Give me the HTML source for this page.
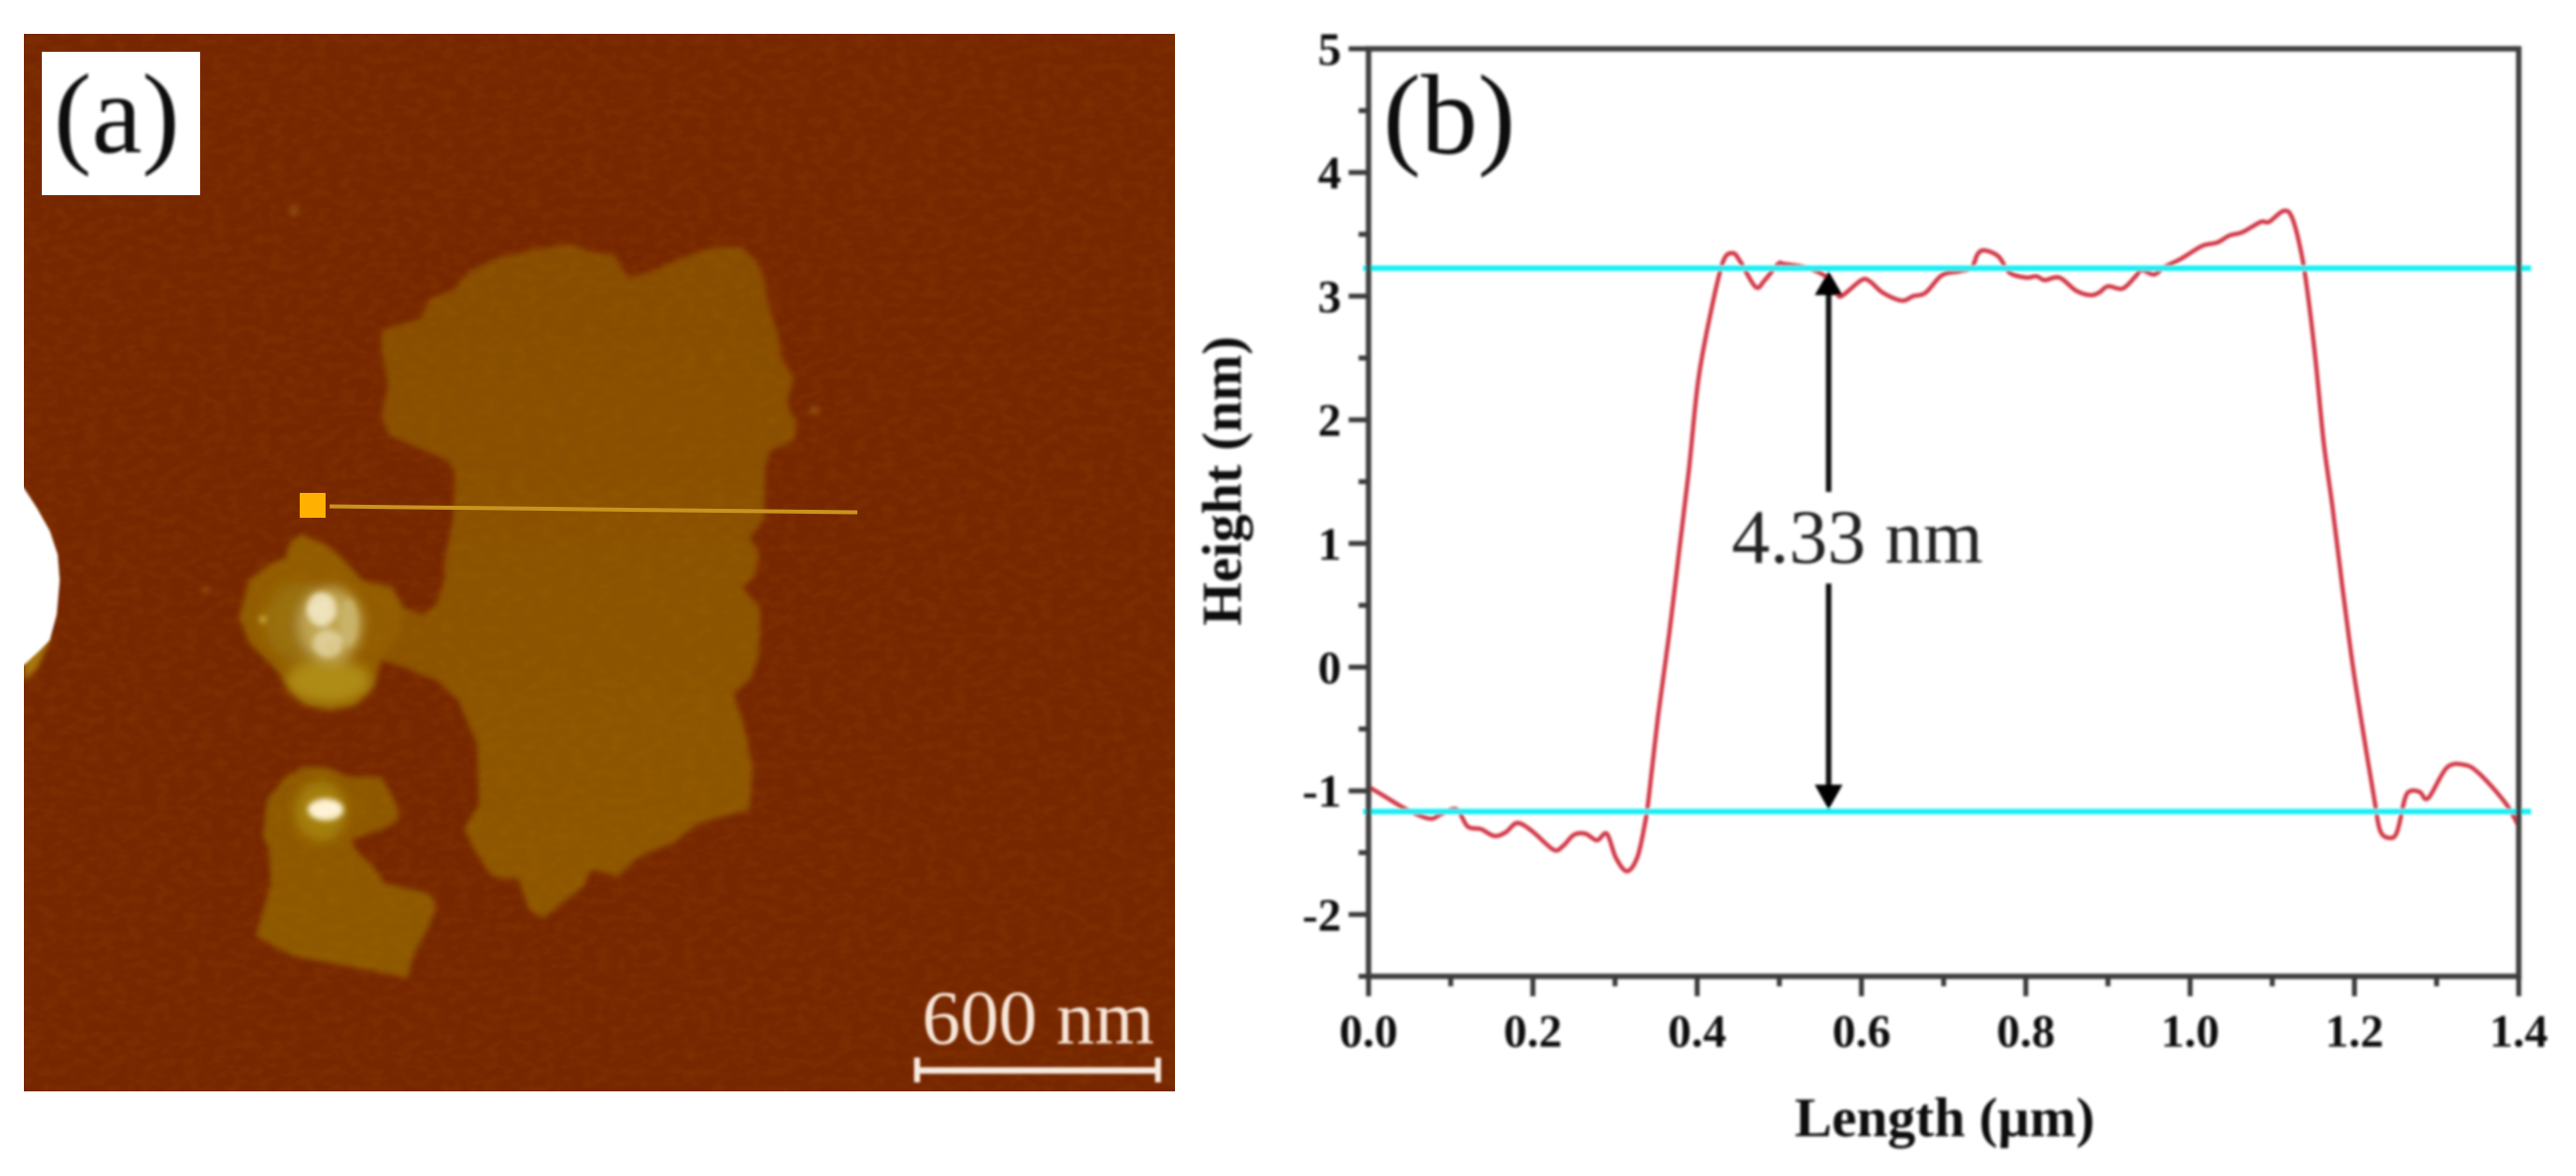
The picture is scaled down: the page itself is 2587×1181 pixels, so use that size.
<!DOCTYPE html>
<html lang="en">
<head>
<meta charset="utf-8">
<title>AFM image and height profile</title>
<style>
html,body{margin:0;padding:0;background:#fff;}
body{width:2587px;height:1181px;overflow:hidden;}
svg{display:block;}
text{font-family:"Liberation Serif",serif;}
</style>
</head>
<body>
<svg id="fig" xmlns="http://www.w3.org/2000/svg" width="2587" height="1181" viewBox="0 0 2587 1181">
  <defs>
    <filter id="soft" x="-5%" y="-5%" width="110%" height="110%"><feGaussianBlur stdDeviation="3"/></filter>
    <filter id="softer" x="-30%" y="-30%" width="160%" height="160%"><feGaussianBlur stdDeviation="6"/></filter>
    <filter id="txt" x="-5%" y="-5%" width="110%" height="110%"><feGaussianBlur stdDeviation="1.2"/></filter>
    <filter id="grain" x="0" y="0" width="100%" height="100%">
      <feTurbulence type="fractalNoise" baseFrequency="0.07 0.11" numOctaves="2" seed="4"/>
      <feColorMatrix type="matrix" values="0 0 0 0 0.62  0 0 0 0 0.28  0 0 0 0 0  1.6 0 0 0 -0.62"/>
    </filter>
    <linearGradient id="islandFill" x1="0" y1="0" x2="0" y2="1">
      <stop offset="0" stop-color="#884d00"/>
      <stop offset="1" stop-color="#8f5700"/>
    </linearGradient>
    <clipPath id="panelClip"><rect x="24" y="34" width="1156" height="1062"/></clipPath>
  </defs>

  <g id="panel-a">
    <rect x="24" y="34" width="1156" height="1062" fill="#772700"/>
    <g clip-path="url(#panelClip)">
      <g filter="url(#soft)">
        <polygon fill="url(#islandFill)" points="383,333 398,327 422,320 432,300 457,290 470,273 503,258 540,250 573,245 593,253 617,255 625,270 632,280 660,270 690,257 717,248 745,248 760,263 768,283 772,307 782,337 785,360 797,380 790,407 800,423 798,442 773,453 768,473 768,520 753,540 763,557 757,580 745,590 763,610 764,620 762,660 753,683 736,697 745,720 756,770 753,813 701,827 675,847 642,860 620,880 594,873 586,890 560,910 546,922 531,913 521,883 494,880 479,857 466,833 475,817 481,810 479,747 460,703 438,683 405,670 383,663 370,640 383,633 405,610 425,617 438,607 446,583 447,560 455,520 457,473 450,463 390,437 383,417 390,387 383,353"/>
        <polygon fill="#925c02" points="303,537 327,547 346,563 364,583 394,590 405,610 400,640 383,663 375,690 357,708 331,713 305,707 290,690 275,670 251,647 240,620 250,583 270,567 287,560 292,543"/>
        <polygon fill="#8e5801" points="305,770 327,770 349,780 383,780 398,807 401,823 383,833 353,843 357,853 375,870 386,887 431,897 438,910 431,930 416,957 409,982 375,975 331,967 294,960 257,940 272,887 270,853 264,840 268,803 287,780"/>
        <polygon fill="#a8740c" points="24,640 50,643 37,672 24,684"/>
      </g>
      <g filter="url(#softer)">
        <ellipse cx="300" cy="625" rx="34" ry="40" fill="#98700a"/>
        <ellipse cx="330" cy="684" rx="42" ry="22" fill="#ad8c14"/>
        <ellipse cx="332" cy="627" rx="32" ry="38" fill="#bfa552"/>
        <ellipse cx="322" cy="815" rx="26" ry="30" fill="#a4800e"/>
      </g>
      <g filter="url(#soft)">
        <ellipse cx="323" cy="612" rx="15" ry="17" fill="#efe3bd"/>
        <ellipse cx="329" cy="646" rx="15" ry="14" fill="#ddcc96"/>
        <ellipse cx="350" cy="625" rx="9" ry="24" fill="#c9b36a"/>
        <ellipse cx="264" cy="622" rx="4" ry="4" fill="#c9a63f"/>
        <ellipse cx="327" cy="813" rx="18" ry="11" fill="#fff4d8"/>
        <ellipse cx="295" cy="211" rx="5" ry="6" fill="#8a4610"/>
        <ellipse cx="207" cy="592" rx="4" ry="4" fill="#8a4610"/>
        <ellipse cx="818" cy="412" rx="5" ry="5" fill="#8a4610"/>
      </g>
      <rect x="24" y="34" width="1156" height="1062" filter="url(#grain)" opacity="0.1"/>
    </g>
    <polygon filter="url(#txt)" fill="#ffffff" points="0,480 24,490 37,510 50,533 58,557 60,583 57,617 50,643 38,655 24,668 0,668"/>
    <rect x="0" y="0" width="24" height="1181" fill="#fff"/>
    <rect x="42" y="52" width="159" height="144" fill="#ffffff"/>
    <text x="54" y="153" font-size="114" fill="#111" filter="url(#txt)">(a)</text>
    <rect x="301" y="495" width="26" height="25" fill="#ffb000"/>
    <line x1="331" y1="508.5" x2="861" y2="514.5" stroke="#c9931f" stroke-width="4"/>
    <g filter="url(#txt)">
      <text x="926" y="1048" font-size="77" fill="#f7e6d8">600 nm</text>
      <g stroke="#f8ebe0" fill="none">
        <line x1="921" y1="1075" x2="1163" y2="1075" stroke-width="6.5"/>
        <line x1="921" y1="1062" x2="921" y2="1087" stroke-width="6"/>
        <line x1="1163" y1="1062" x2="1163" y2="1087" stroke-width="6"/>
      </g>
    </g>
  </g>

  <g id="panel-b" filter="url(#txt)">
    <g id="series-layer"></g>
    <g id="level-layer"></g>
    <g id="axes-layer"></g>
    <g id="arrow-layer"></g>
    <text x="1389" y="154" font-size="114" fill="#111">(b)</text>
    <text x="1739" y="565" font-size="77" fill="#222">4.33 nm</text>
    <text x="1953" y="1141" font-size="56" font-weight="bold" text-anchor="middle" fill="#111">Length (µm)</text>
    <text x="1246" y="483" font-size="56" font-weight="bold" text-anchor="middle" fill="#111" transform="rotate(-90 1246 483)">Height (nm)</text>
  </g>
</svg>

<script>
var xTickLabels = ["0.0", "0.2", "0.4", "0.6", "0.8", "1.0", "1.2", "1.4"];
var xTickValues = [0, 0.2, 0.4, 0.6, 0.8, 1.0, 1.2, 1.4];
var xMinorValues = [0.1, 0.3, 0.5, 0.7, 0.9, 1.1, 1.3];
var yTickLabels = ["-2", "-1", "0", "1", "2", "3", "4", "5"];
var yTickValues = [-2, -1, 0, 1, 2, 3, 4, 5];
var yMinorValues = [-2.5, -1.5, -0.5, 0.5, 1.5, 2.5, 3.5, 4.5];
var referenceLevels = [3.226, -1.167];
var arrowLength = 0.56;
var profileLength = [
  0, 0.0186, 0.046, 0.074, 0.088, 0.107, 0.1206, 0.137, 0.153, 0.167, 0.181, 0.199, 0.225, 0.2366, 0.25, 0.264, 0.278, 0.29, 0.301, 0.3145, 0.327, 0.336, 0.341, 0.3525, 0.366, 0.378, 0.39, 0.401, 0.415, 0.431, 0.443, 0.452, 0.471, 0.482, 0.4986, 0.5056, 0.533, 0.557, 0.5705, 0.5775, 0.6, 0.61, 0.626, 0.649, 0.663, 0.678, 0.698, 0.719, 0.734, 0.7414, 0.75, 0.767, 0.78, 0.8, 0.813, 0.823, 0.841, 0.861, 0.879, 0.8895, 0.9, 0.9176, 0.933, 0.941, 0.956, 0.969, 0.9894, 1.015, 1.033, 1.048, 1.063, 1.086, 1.096, 1.114, 1.124, 1.1345, 1.142, 1.152, 1.1625, 1.173, 1.1855, 1.198, 1.211, 1.224, 1.231, 1.2415, 1.2517, 1.2617, 1.269, 1.2797, 1.29, 1.3129, 1.3355, 1.351, 1.3717, 1.387, 1.3995
];
var profileHeight = [
  -0.967, -1.04, -1.15, -1.225, -1.19, -1.15, -1.288, -1.31, -1.365, -1.335, -1.26, -1.325, -1.476, -1.447, -1.355, -1.347, -1.40, -1.347, -1.54, -1.65, -1.54, -1.28, -1.06, -0.393, 0.272, 0.938, 1.6, 2.305, 2.82, 3.27, 3.348, 3.285, 3.075, 3.127, 3.26, 3.26, 3.23, 3.156, 3.015, 3.008, 3.13, 3.12, 3.027, 2.964, 3.0, 3.027, 3.17, 3.2, 3.23, 3.34, 3.37, 3.32, 3.19, 3.15, 3.16, 3.13, 3.15, 3.045, 3.008, 3.03, 3.08, 3.06, 3.155, 3.21, 3.175, 3.237, 3.304, 3.407, 3.433, 3.49, 3.515, 3.6, 3.6, 3.69, 3.636, 3.378, 3.08, 2.527, 1.825, 1.31, 0.642, 0.014, -0.54, -1.06, -1.317, -1.38, -1.336, -1.058, -1.0, -1.01, -1.058, -0.81, -0.792, -0.855, -1.0, -1.13, -1.28
];

var NS = "http://www.w3.org/2000/svg";
var plot = { left: 1374.4, right: 2529.5, top: 49, bottom: 980.5 };
function xScale(v) { return plot.left + (v - 0) / (1.4 - 0) * (plot.right - plot.left); }
function yScale(v) { return plot.bottom - (v - (-2.5)) / (5 - (-2.5)) * (plot.bottom - plot.top); }
function make(tag, attrs, parent) {
  var el = document.createElementNS(NS, tag);
  for (var k in attrs) { el.setAttribute(k, attrs[k]); }
  parent.appendChild(el);
  return el;
}

var seriesLayer = document.getElementById("series-layer");
var levelLayer = document.getElementById("level-layer");
var axesLayer = document.getElementById("axes-layer");
var arrowLayer = document.getElementById("arrow-layer");

// height profile curve (Catmull-Rom through the sampled values)
var pts = profileLength.map(function (v, i) { return [xScale(v), yScale(profileHeight[i])]; });
var d = "M" + pts[0][0].toFixed(1) + " " + pts[0][1].toFixed(1);
for (var i = 0; i < pts.length - 1; i++) {
  var p0 = pts[Math.max(i - 1, 0)], p1 = pts[i], p2 = pts[i + 1], p3 = pts[Math.min(i + 2, pts.length - 1)];
  var c1x = p1[0] + (p2[0] - p0[0]) / 6, c1y = p1[1] + (p2[1] - p0[1]) / 6;
  var c2x = p2[0] - (p3[0] - p1[0]) / 6, c2y = p2[1] - (p3[1] - p1[1]) / 6;
  d += "C" + c1x.toFixed(1) + " " + c1y.toFixed(1) + " " + c2x.toFixed(1) + " " + c2y.toFixed(1) + " " + p2[0].toFixed(1) + " " + p2[1].toFixed(1);
}
var curve = make("path", { d: d, fill: "none", stroke: "#d23a4a", "stroke-width": 4.4, "stroke-linejoin": "round" }, seriesLayer);



// cyan reference levels
referenceLevels.forEach(function (level) {
  var ln = make("line", { x1: 1369, x2: 2542, y1: yScale(level), y2: yScale(level), stroke: "#12eef4", "stroke-width": 5.5 }, levelLayer);
  
  
});

// plot frame
var frame = make("rect", { x: plot.left, y: plot.top, width: plot.right - plot.left, height: plot.bottom - plot.top, fill: "none", stroke: "#404040", "stroke-width": 5.5 }, axesLayer);



// x ticks
xTickValues.forEach(function (v, i) {
  var t = make("line", { x1: xScale(v), x2: xScale(v), y1: plot.bottom, y2: plot.bottom + 20, stroke: "#3a3a3a", "stroke-width": 5 }, axesLayer);
  
  
  var lab = make("text", { x: xScale(v), y: 1051, "font-size": 47, "font-weight": "bold", "text-anchor": "middle", fill: "#111" }, axesLayer);
  
  
  lab.textContent = xTickLabels[i];
});
xMinorValues.forEach(function (v) {
  var t = make("line", { x1: xScale(v), x2: xScale(v), y1: plot.bottom, y2: plot.bottom + 10, stroke: "#3a3a3a", "stroke-width": 5 }, axesLayer);
  
  
});

// y ticks
yTickValues.forEach(function (v, i) {
  var t = make("line", { x1: plot.left - 20, x2: plot.left, y1: yScale(v), y2: yScale(v), stroke: "#3a3a3a", "stroke-width": 5 }, axesLayer);
  
  
  var lab = make("text", { x: 1347, y: yScale(v) + 16, "font-size": 47, "font-weight": "bold", "text-anchor": "end", fill: "#111" }, axesLayer);
  
  
  lab.textContent = yTickLabels[i];
});
yMinorValues.forEach(function (v) {
  var t = make("line", { x1: plot.left - 10, x2: plot.left, y1: yScale(v), y2: yScale(v), stroke: "#3a3a3a", "stroke-width": 5 }, axesLayer);
  
  
});

// double arrow between the two reference levels
var ax = xScale(arrowLength);
var topY = yScale(referenceLevels[0]) + 3;
var botY = yScale(referenceLevels[1]) - 2;
var upper = make("line", { x1: ax, x2: ax, y1: topY + 20, y2: 494, stroke: "#111", "stroke-width": 5.5 }, arrowLayer);


var lower = make("line", { x1: ax, x2: ax, y1: 586, y2: botY - 20, stroke: "#111", "stroke-width": 5.5 }, arrowLayer);


var headUp = make("polygon", { points: ax + "," + topY + " " + (ax + 14) + "," + (topY + 24) + " " + (ax - 14) + "," + (topY + 24), fill: "#000" }, arrowLayer);


var headDown = make("polygon", { points: ax + "," + botY + " " + (ax + 14) + "," + (botY - 25) + " " + (ax - 14) + "," + (botY - 25), fill: "#000" }, arrowLayer);


</script>
</body>
</html>
